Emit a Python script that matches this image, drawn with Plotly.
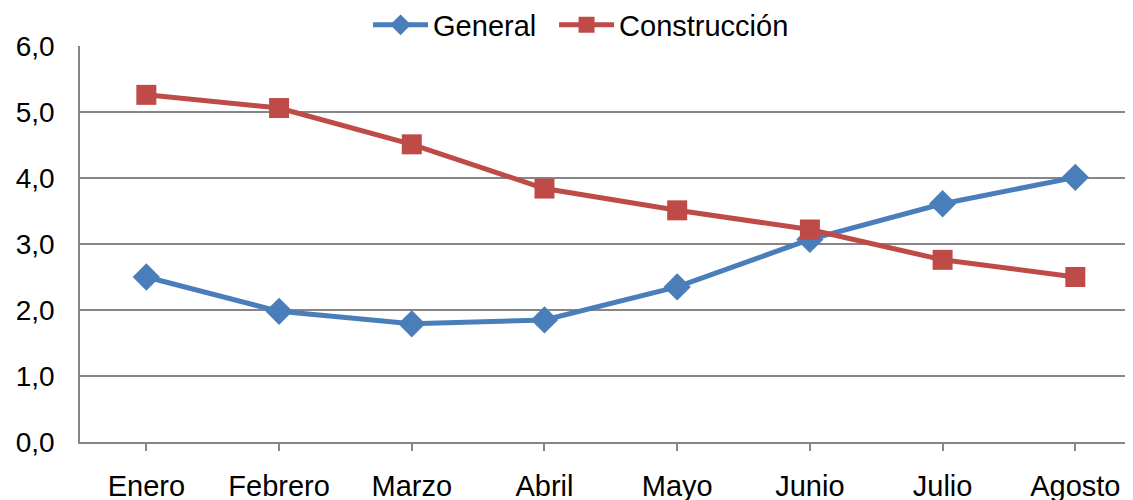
import plotly.graph_objects as go

months = ["Enero", "Febrero", "Marzo", "Abril", "Mayo", "Junio", "Julio", "Agosto"]
general = [2.50, 1.98, 1.79, 1.85, 2.35, 3.07, 3.61, 4.01]
construccion = [5.26, 5.06, 4.51, 3.84, 3.51, 3.22, 2.76, 2.50]

fig = go.Figure()
fig.add_trace(go.Scatter(
    x=list(range(len(months))), y=general, name="General", mode="lines+markers",
    line=dict(color="#4A7EBB", width=5),
    marker=dict(symbol="diamond", size=21, color="#4A7EBB"),
    legend="legend",
))
fig.add_trace(go.Scatter(
    x=list(range(len(months))), y=construccion, name="Construcción", mode="lines+markers",
    line=dict(color="#BE4B48", width=5),
    marker=dict(symbol="square", size=20, color="#BE4B48"),
    legend="legend2",
))

legend_style = dict(orientation="h", xanchor="left", y=1.053, yanchor="middle",
                    font=dict(size=29), itemwidth=55, bgcolor="rgba(0,0,0,0)")

# page body adds an 8px offset; margins compensate for it
fig.update_layout(
    width=1133, height=500,
    margin=dict(l=72, r=0, t=38, b=66, autoexpand=False),
    paper_bgcolor="white", plot_bgcolor="white",
    separators=",.",
    font=dict(family="Liberation Sans, Arial, sans-serif", size=28, color="black"),
    showlegend=True,
    legend=dict(x=0.2715, **legend_style),
    legend2=dict(x=0.4468, **legend_style),
)
fig.update_xaxes(
    range=[-0.5, 7.495], tickmode="array", tickvals=list(range(len(months))), ticktext=months,
    showgrid=False, showline=True, linecolor="#868686", linewidth=1.5,
    ticks="outside", ticklen=7, tickcolor="#868686", tickwidth=1.5,
    tickfont=dict(size=29), ticklabelstandoff=10, zeroline=False, automargin=False,
)
fig.update_yaxes(
    range=[0, 6], dtick=1, tickformat=".1f",
    showgrid=True, gridcolor="#868686", gridwidth=1.5,
    showline=True, linecolor="#868686", linewidth=1.5,
    ticks="", tickfont=dict(size=28), ticklabelstandoff=18, zeroline=False, automargin=False,
)

fig.write_html("out.html")
